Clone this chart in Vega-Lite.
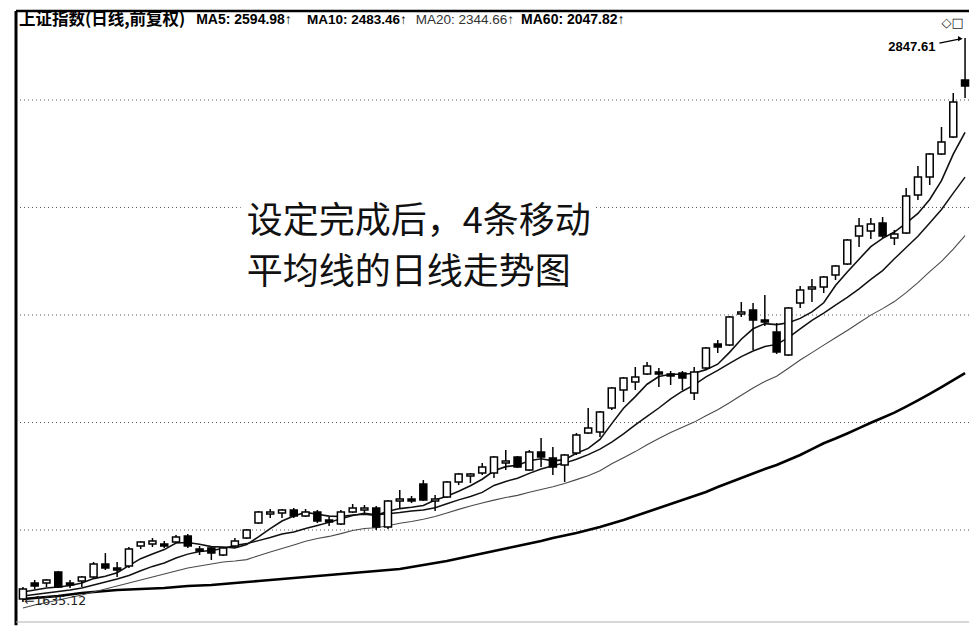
{
  "$schema": "https://vega.github.io/schema/vega-lite/v6.json",
  "width": 963,
  "height": 611,
  "padding": {"left": 11, "top": 11, "right": 0, "bottom": 5},
  "autosize": {"type": "none"},
  "background": "#ffffff",
  "config": {"view": {"stroke": null}},
  "datasets": {
    "k": [
      {"i":0,"o":1640.0,"h":1659.4,"l":1635.12,"c":1656.2,"m5":1651.3,"m10":1644.8,"m20":1625.5,"m60":1640.0},
      {"i":1,"o":1666.0,"h":1670.9,"l":1656.2,"c":1661.1,"m5":1654.6,"m10":1647.3,"m20":1630.3,"m60":1641.6},
      {"i":2,"o":1666.0,"h":1672.6,"l":1659.4,"c":1670.9,"m5":1657.8,"m10":1649.7,"m20":1634.3,"m60":1643.2},
      {"i":3,"o":1684.1,"h":1685.8,"l":1657.8,"c":1659.4,"m5":1659.4,"m10":1652.1,"m20":1638.3,"m60":1644.8},
      {"i":4,"o":1666.0,"h":1670.9,"l":1657.8,"c":1662.7,"m5":1662.0,"m10":1654.6,"m20":1642.4,"m60":1647.3},
      {"i":5,"o":1669.2,"h":1677.5,"l":1659.4,"c":1675.9,"m5":1666.0,"m10":1657.8,"m20":1646.4,"m60":1649.7},
      {"i":6,"o":1675.9,"h":1700.7,"l":1674.2,"c":1697.4,"m5":1673.2,"m10":1662.7,"m20":1651.3,"m60":1651.3},
      {"i":7,"o":1697.4,"h":1715.8,"l":1687.4,"c":1690.7,"m5":1677.2,"m10":1667.6,"m20":1656.2,"m60":1652.9},
      {"i":8,"o":1690.7,"h":1700.7,"l":1675.9,"c":1687.4,"m5":1682.8,"m10":1672.6,"m20":1661.1,"m60":1654.6},
      {"i":9,"o":1694.1,"h":1726.0,"l":1690.7,"c":1722.6,"m5":1694.8,"m10":1678.3,"m20":1666.0,"m60":1655.4},
      {"i":10,"o":1727.7,"h":1736.2,"l":1722.6,"c":1734.5,"m5":1706.4,"m10":1686.1,"m20":1670.9,"m60":1656.2},
      {"i":11,"o":1731.1,"h":1741.3,"l":1726.0,"c":1736.2,"m5":1714.1,"m10":1693.4,"m20":1675.9,"m60":1657.0},
      {"i":12,"o":1731.1,"h":1736.2,"l":1724.3,"c":1727.7,"m5":1721.6,"m10":1699.0,"m20":1680.8,"m60":1657.8},
      {"i":13,"o":1734.5,"h":1746.5,"l":1732.8,"c":1743.1,"m5":1732.8,"m10":1707.4,"m20":1685.8,"m60":1659.4},
      {"i":14,"o":1744.8,"h":1748.2,"l":1724.3,"c":1727.7,"m5":1733.8,"m10":1714.0,"m20":1690.7,"m60":1661.1},
      {"i":15,"o":1722.6,"h":1727.7,"l":1712.5,"c":1719.2,"m5":1730.8,"m10":1718.4,"m20":1694.1,"m60":1661.9},
      {"i":16,"o":1724.3,"h":1726.0,"l":1704.1,"c":1715.8,"m5":1726.7,"m10":1720.2,"m20":1697.4,"m60":1662.7},
      {"i":17,"o":1712.5,"h":1726.0,"l":1710.8,"c":1724.3,"m5":1726.0,"m10":1723.6,"m20":1700.7,"m60":1664.3},
      {"i":18,"o":1727.7,"h":1741.3,"l":1726.0,"c":1736.2,"m5":1724.6,"m10":1728.6,"m20":1702.4,"m60":1666.0},
      {"i":19,"o":1741.3,"h":1756.8,"l":1739.6,"c":1755.1,"m5":1730.1,"m10":1731.8,"m20":1704.8,"m60":1667.6},
      {"i":20,"o":1767.3,"h":1788.3,"l":1765.5,"c":1786.5,"m5":1743.4,"m10":1736.9,"m20":1711.3,"m60":1669.2},
      {"i":21,"o":1783.0,"h":1791.8,"l":1776.0,"c":1786.5,"m5":1757.5,"m10":1742.1,"m20":1717.5,"m60":1670.9},
      {"i":22,"o":1784.8,"h":1791.8,"l":1776.0,"c":1790.0,"m5":1770.8,"m10":1748.2,"m20":1723.5,"m60":1672.6},
      {"i":23,"o":1790.0,"h":1793.5,"l":1776.0,"c":1779.5,"m5":1779.5,"m10":1751.8,"m20":1729.4,"m60":1674.2},
      {"i":24,"o":1779.5,"h":1791.8,"l":1777.8,"c":1786.5,"m5":1785.8,"m10":1757.7,"m20":1735.7,"m60":1675.9},
      {"i":25,"o":1786.5,"h":1790.0,"l":1767.3,"c":1770.8,"m5":1782.6,"m10":1762.9,"m20":1740.5,"m60":1677.5},
      {"i":26,"o":1772.5,"h":1777.8,"l":1762.0,"c":1769.0,"m5":1779.2,"m10":1768.3,"m20":1744.1,"m60":1679.2},
      {"i":27,"o":1765.5,"h":1790.0,"l":1763.8,"c":1786.5,"m5":1778.5,"m10":1774.6,"m20":1748.9,"m60":1680.8},
      {"i":28,"o":1786.5,"h":1800.6,"l":1784.8,"c":1793.5,"m5":1781.3,"m10":1780.4,"m20":1754.2,"m60":1682.5},
      {"i":29,"o":1790.0,"h":1798.8,"l":1784.8,"c":1793.5,"m5":1782.6,"m10":1784.2,"m20":1757.7,"m60":1684.1},
      {"i":30,"o":1793.5,"h":1797.1,"l":1755.1,"c":1760.3,"m5":1780.6,"m10":1781.6,"m20":1759.1,"m60":1685.8},
      {"i":31,"o":1760.3,"h":1807.7,"l":1756.8,"c":1805.9,"m5":1787.9,"m10":1783.5,"m20":1762.6,"m60":1687.4},
      {"i":32,"o":1805.9,"h":1825.5,"l":1793.5,"c":1809.4,"m5":1792.5,"m10":1785.4,"m20":1766.7,"m60":1689.1},
      {"i":33,"o":1809.4,"h":1814.8,"l":1802.3,"c":1805.9,"m5":1794.9,"m10":1788.1,"m20":1769.9,"m60":1692.4},
      {"i":34,"o":1836.3,"h":1843.5,"l":1805.9,"c":1807.7,"m5":1797.8,"m10":1790.2,"m20":1773.9,"m60":1695.7},
      {"i":35,"o":1805.9,"h":1816.6,"l":1788.3,"c":1809.4,"m5":1807.7,"m10":1794.1,"m20":1778.5,"m60":1699.0},
      {"i":36,"o":1813.0,"h":1841.7,"l":1811.2,"c":1839.9,"m5":1814.4,"m10":1801.1,"m20":1784.6,"m60":1702.4},
      {"i":37,"o":1839.9,"h":1856.3,"l":1834.5,"c":1854.5,"m5":1823.3,"m10":1807.9,"m20":1791.1,"m60":1706.6},
      {"i":38,"o":1850.8,"h":1856.3,"l":1838.1,"c":1854.5,"m5":1833.1,"m10":1813.9,"m20":1797.1,"m60":1710.8},
      {"i":39,"o":1856.3,"h":1874.7,"l":1852.6,"c":1867.3,"m5":1845.0,"m10":1821.2,"m20":1802.5,"m60":1715.0},
      {"i":40,"o":1856.3,"h":1887.6,"l":1847.2,"c":1885.8,"m5":1860.3,"m10":1833.8,"m20":1807.5,"m60":1719.2},
      {"i":41,"o":1874.7,"h":1898.8,"l":1861.8,"c":1878.4,"m5":1868.0,"m10":1841.0,"m20":1812.0,"m60":1723.5},
      {"i":42,"o":1885.8,"h":1887.6,"l":1865.5,"c":1867.3,"m5":1870.6,"m10":1846.9,"m20":1815.9,"m60":1727.7},
      {"i":43,"o":1861.8,"h":1898.8,"l":1860.0,"c":1895.0,"m5":1878.7,"m10":1855.7,"m20":1821.6,"m60":1732.0},
      {"i":44,"o":1895.0,"h":1921.4,"l":1867.3,"c":1885.8,"m5":1882.4,"m10":1863.6,"m20":1826.4,"m60":1736.2},
      {"i":45,"o":1883.9,"h":1904.4,"l":1852.6,"c":1867.3,"m5":1878.7,"m10":1869.5,"m20":1831.3,"m60":1741.3},
      {"i":46,"o":1871.0,"h":1891.3,"l":1839.9,"c":1889.5,"m5":1880.9,"m10":1874.5,"m20":1837.4,"m60":1745.6},
      {"i":47,"o":1893.2,"h":1930.8,"l":1889.5,"c":1927.0,"m5":1892.8,"m10":1881.7,"m20":1844.3,"m60":1749.9},
      {"i":48,"o":1930.8,"h":1978.9,"l":1928.9,"c":1940.3,"m5":1901.8,"m10":1890.2,"m20":1851.5,"m60":1755.1},
      {"i":49,"o":1932.7,"h":1973.0,"l":1923.3,"c":1971.1,"m5":1918.7,"m10":1900.4,"m20":1860.3,"m60":1760.3},
      {"i":50,"o":1978.9,"h":2020.2,"l":1975.0,"c":2018.2,"m5":1948.7,"m10":1913.4,"m20":1873.2,"m60":1766.4},
      {"i":51,"o":2014.2,"h":2040.1,"l":1990.5,"c":2038.1,"m5":1978.5,"m10":1929.1,"m20":1884.5,"m60":1772.5},
      {"i":52,"o":2030.1,"h":2060.3,"l":2014.2,"c":2040.1,"m5":2001.1,"m10":1946.3,"m20":1895.8,"m60":1779.5},
      {"i":53,"o":2046.2,"h":2070.4,"l":2044.2,"c":2062.3,"m5":2025.7,"m10":1962.8,"m20":1908.5,"m60":1786.5},
      {"i":54,"o":2050.2,"h":2058.3,"l":2020.2,"c":2046.2,"m5":2041.0,"m10":1978.9,"m20":1920.4,"m60":1793.5},
      {"i":55,"o":2046.2,"h":2052.2,"l":2024.1,"c":2042.2,"m5":2045.8,"m10":1996.6,"m20":1931.9,"m60":1800.6},
      {"i":56,"o":2048.2,"h":2052.2,"l":2014.2,"c":2038.1,"m5":2045.8,"m10":2011.8,"m20":1941.9,"m60":1807.7},
      {"i":57,"o":2008.2,"h":2060.3,"l":1994.4,"c":2050.2,"m5":2047.8,"m10":2024.3,"m20":1951.6,"m60":1814.8},
      {"i":58,"o":2058.3,"h":2101.2,"l":2056.3,"c":2099.1,"m5":2055.0,"m10":2040.4,"m20":1963.7,"m60":1821.9},
      {"i":59,"o":2107.4,"h":2115.7,"l":2088.9,"c":2101.2,"m5":2066.0,"m10":2053.4,"m20":1975.4,"m60":1831.0},
      {"i":60,"o":2105.3,"h":2166.3,"l":2103.3,"c":2164.2,"m5":2090.1,"m10":2067.7,"m20":1989.0,"m60":1839.0},
      {"i":61,"o":2170.5,"h":2196.3,"l":2164.2,"c":2174.8,"m5":2117.3,"m10":2081.3,"m20":2003.7,"m60":1847.2},
      {"i":62,"o":2179.1,"h":2194.1,"l":2095.0,"c":2157.7,"m5":2139.2,"m10":2092.9,"m20":2018.2,"m60":1855.4},
      {"i":63,"o":2157.7,"h":2211.5,"l":2145.1,"c":2153.5,"m5":2150.1,"m10":2102.1,"m20":2031.1,"m60":1863.6},
      {"i":64,"o":2132.4,"h":2151.4,"l":2086.8,"c":2090.9,"m5":2148.0,"m10":2106.6,"m20":2041.8,"m60":1871.0},
      {"i":65,"o":2084.8,"h":2185.5,"l":2082.7,"c":2183.4,"m5":2151.8,"m10":2120.7,"m20":2057.7,"m60":1880.2},
      {"i":66,"o":2194.1,"h":2231.1,"l":2183.4,"c":2222.4,"m5":2161.2,"m10":2139.2,"m20":2074.5,"m60":1889.5},
      {"i":67,"o":2224.6,"h":2246.6,"l":2196.3,"c":2228.9,"m5":2175.2,"m10":2157.1,"m20":2089.7,"m60":1900.6},
      {"i":68,"o":2228.9,"h":2253.2,"l":2215.8,"c":2251.0,"m5":2194.6,"m10":2172.2,"m20":2105.1,"m60":1911.5},
      {"i":69,"o":2255.4,"h":2277.7,"l":2244.3,"c":2275.5,"m5":2232.1,"m10":2189.6,"m20":2120.3,"m60":1920.4},
      {"i":70,"o":2280.0,"h":2336.7,"l":2277.7,"c":2334.4,"m5":2262.1,"m10":2206.3,"m20":2135.8,"m60":1930.0},
      {"i":71,"o":2343.6,"h":2385.5,"l":2318.4,"c":2366.8,"m5":2290.7,"m10":2225.0,"m20":2151.8,"m60":1940.0},
      {"i":72,"o":2355.1,"h":2385.5,"l":2336.7,"c":2371.4,"m5":2319.3,"m10":2245.7,"m20":2168.2,"m60":1950.3},
      {"i":73,"o":2373.8,"h":2387.8,"l":2339.0,"c":2343.6,"m5":2338.1,"m10":2265.2,"m20":2182.1,"m60":1959.9},
      {"i":74,"o":2339.0,"h":2357.5,"l":2323.0,"c":2348.2,"m5":2352.8,"m10":2291.6,"m20":2197.2,"m60":1969.9},
      {"i":75,"o":2350.5,"h":2457.0,"l":2348.2,"c":2437.6,"m5":2373.3,"m10":2317.1,"m20":2216.7,"m60":1981.4},
      {"i":76,"o":2440.0,"h":2510.6,"l":2428.1,"c":2483.6,"m5":2396.3,"m10":2342.9,"m20":2238.6,"m60":1993.6},
      {"i":77,"o":2483.6,"h":2542.9,"l":2464.1,"c":2540.4,"m5":2429.5,"m10":2373.8,"m20":2262.8,"m60":2006.4},
      {"i":78,"o":2540.4,"h":2608.8,"l":2537.9,"c":2570.6,"m5":2474.8,"m10":2405.5,"m20":2285.8,"m60":2019.8},
      {"i":79,"o":2583.3,"h":2697.5,"l":2580.8,"c":2673.7,"m5":2539.9,"m10":2444.6,"m20":2313.6,"m60":2033.9},
      {"i":80,"o":2732.2,"h":2847.61,"l":2684.3,"c":2716.2,"m5":2594.98,"m10":2483.46,"m20":2344.66,"m60":2047.82}
    ],
    "levels": [{"g": 2679.0}, {"g": 2410.3}, {"g": 2168.4}, {"g": 1950.8}, {"g": 1755.1}]
  },
  "layer": [
    {
      "data": {"name": "levels"},
      "mark": {"type": "rule", "color": "#555555", "strokeWidth": 1, "strokeDash": [1, 3]},
      "encoding": {
        "x": {"datum": -0.588, "type": "quantitative", "scale": {"domain": [-0.588, 80.336], "nice": false, "zero": false}, "axis": {"labels": false, "ticks": false, "domain": false, "grid": false, "title": null}},
        "x2": {"datum": 80.336},
        "y": {"field": "g", "type": "quantitative", "scale": {"type": "log", "domain": [1603.3, 2924.1], "nice": false, "zero": false}, "axis": {"labels": false, "ticks": false, "domain": false, "grid": false, "title": null}}
      }
    },
    {
      "data": {"values": [{}]},
      "mark": {"type": "rect", "fill": "#ffffff"},
      "encoding": {
        "x": {"datum": 18.49, "type": "quantitative", "axis": null},
        "x2": {"datum": 48.49},
        "y": {"datum": 2432.9, "type": "quantitative", "axis": null},
        "y2": {"datum": 2207.2}
      }
    },
    {
      "data": {"name": "k"},
      "mark": {"type": "line", "color": "#000000", "strokeWidth": 2.6},
      "encoding": {
        "x": {"field": "i", "type": "quantitative", "scale": {"domain": [-0.588, 80.336], "nice": false, "zero": false}, "axis": null},
        "y": {"field": "m60", "type": "quantitative", "scale": {"type": "log", "domain": [1603.3, 2924.1], "nice": false, "zero": false}, "axis": null}
      }
    },
    {
      "data": {"name": "k"},
      "mark": {"type": "line", "color": "#4a4a4a", "strokeWidth": 1.1},
      "encoding": {
        "x": {"field": "i", "type": "quantitative", "scale": {"domain": [-0.588, 80.336], "nice": false, "zero": false}, "axis": null},
        "y": {"field": "m20", "type": "quantitative", "scale": {"type": "log", "domain": [1603.3, 2924.1], "nice": false, "zero": false}, "axis": null}
      }
    },
    {
      "data": {"name": "k"},
      "mark": {"type": "line", "color": "#111111", "strokeWidth": 1.5},
      "encoding": {
        "x": {"field": "i", "type": "quantitative", "scale": {"domain": [-0.588, 80.336], "nice": false, "zero": false}, "axis": null},
        "y": {"field": "m10", "type": "quantitative", "scale": {"type": "log", "domain": [1603.3, 2924.1], "nice": false, "zero": false}, "axis": null}
      }
    },
    {
      "data": {"name": "k"},
      "mark": {"type": "line", "color": "#111111", "strokeWidth": 1.6},
      "encoding": {
        "x": {"field": "i", "type": "quantitative", "scale": {"domain": [-0.588, 80.336], "nice": false, "zero": false}, "axis": null},
        "y": {"field": "m5", "type": "quantitative", "scale": {"type": "log", "domain": [1603.3, 2924.1], "nice": false, "zero": false}, "axis": null}
      }
    },
    {
      "data": {"name": "k"},
      "mark": {"type": "rule", "color": "#000000", "strokeWidth": 1.5},
      "encoding": {
        "x": {"field": "i", "type": "quantitative", "scale": {"domain": [-0.588, 80.336], "nice": false, "zero": false}, "axis": null},
        "y": {"field": "l", "type": "quantitative", "scale": {"type": "log", "domain": [1603.3, 2924.1], "nice": false, "zero": false}, "axis": null},
        "y2": {"field": "h"}
      }
    },
    {
      "data": {"name": "k"},
      "mark": {"type": "bar", "size": 7, "stroke": "#000000", "strokeWidth": 1.5},
      "encoding": {
        "x": {"field": "i", "type": "quantitative", "scale": {"domain": [-0.588, 80.336], "nice": false, "zero": false}, "axis": null},
        "y": {"field": "o", "type": "quantitative", "scale": {"type": "log", "domain": [1603.3, 2924.1], "nice": false, "zero": false}, "axis": null},
        "y2": {"field": "c"},
        "fill": {"condition": {"test": "datum.c < datum.o", "value": "#000000"}, "value": "#ffffff"}
      }
    },
    {
      "data": {"values": [{}]},
      "mark": {"type": "text", "text": "设定完成后，4条移动", "font": "Noto Sans CJK SC", "fontSize": 36, "color": "#111111", "align": "left", "baseline": "middle"},
      "encoding": {
        "x": {"datum": 19.0, "type": "quantitative", "axis": null},
        "y": {"datum": 2376.1, "type": "quantitative", "axis": null}
      }
    },
    {
      "data": {"values": [{}]},
      "mark": {"type": "text", "text": "平均线的日线走势图", "font": "Noto Sans CJK SC", "fontSize": 36, "color": "#111111", "align": "left", "baseline": "middle"},
      "encoding": {
        "x": {"datum": 19.0, "type": "quantitative", "axis": null},
        "y": {"datum": 2258.8, "type": "quantitative", "axis": null}
      }
    },
    {
      "data": {"values": [{}]},
      "mark": {"type": "text", "text": "上证指数(日线,前复权)", "font": "Noto Sans CJK SC", "fontWeight": "bold", "fontSize": 16.5, "color": "#000000", "align": "left", "baseline": "middle"},
      "encoding": {
        "x": {"datum": -0.336, "type": "quantitative", "axis": null},
        "y": {"datum": 2898.0, "type": "quantitative", "axis": null}
      }
    },
    {
      "data": {"values": [{}]},
      "mark": {"type": "text", "text": "MA5: 2594.98↑", "font": "Liberation Sans", "fontWeight": "bold", "fontSize": 14, "color": "#000000", "align": "left", "baseline": "middle"},
      "encoding": {
        "x": {"datum": 14.71, "type": "quantitative", "axis": null},
        "y": {"datum": 2898.0, "type": "quantitative", "axis": null}
      }
    },
    {
      "data": {"values": [{}]},
      "mark": {"type": "text", "text": "MA10: 2483.46↑", "font": "Liberation Sans", "fontWeight": "bold", "fontSize": 13.5, "color": "#000000", "align": "left", "baseline": "middle"},
      "encoding": {
        "x": {"datum": 24.12, "type": "quantitative", "axis": null},
        "y": {"datum": 2898.0, "type": "quantitative", "axis": null}
      }
    },
    {
      "data": {"values": [{}]},
      "mark": {"type": "text", "text": "MA20: 2344.66↑", "font": "Liberation Sans", "fontSize": 13.5, "color": "#333333", "align": "left", "baseline": "middle"},
      "encoding": {
        "x": {"datum": 33.35, "type": "quantitative", "axis": null},
        "y": {"datum": 2898.0, "type": "quantitative", "axis": null}
      }
    },
    {
      "data": {"values": [{}]},
      "mark": {"type": "text", "text": "MA60: 2047.82↑", "font": "Liberation Sans", "fontWeight": "bold", "fontSize": 14, "color": "#000000", "align": "left", "baseline": "middle"},
      "encoding": {
        "x": {"datum": 42.3, "type": "quantitative", "axis": null},
        "y": {"datum": 2898.0, "type": "quantitative", "axis": null}
      }
    },
    {
      "data": {"values": [{}]},
      "mark": {"type": "text", "text": "◇□", "font": "DejaVu Sans", "fontSize": 13, "color": "#222222", "align": "left", "baseline": "middle"},
      "encoding": {
        "x": {"datum": 78.0, "type": "quantitative", "axis": null},
        "y": {"datum": 2889.8, "type": "quantitative", "axis": null}
      }
    },
    {
      "data": {"values": [{}]},
      "mark": {"type": "text", "text": "2847.61", "font": "Liberation Sans", "fontWeight": "bold", "fontSize": 13, "color": "#000000", "align": "right", "baseline": "middle"},
      "encoding": {
        "x": {"datum": 77.48, "type": "quantitative", "axis": null},
        "y": {"datum": 2823.7, "type": "quantitative", "axis": null}
      }
    },
    {
      "data": {"values": [{}]},
      "mark": {"type": "rule", "color": "#000000", "strokeWidth": 1.3},
      "encoding": {
        "x": {"datum": 77.82, "type": "quantitative", "axis": null},
        "x2": {"datum": 79.6},
        "y": {"datum": 2833.4, "type": "quantitative", "axis": null},
        "y2": {"datum": 2845.0}
      }
    },
    {
      "data": {"values": [{}]},
      "mark": {"type": "point", "shape": "triangle-right", "size": 28, "filled": true, "color": "#000000", "opacity": 1},
      "encoding": {
        "x": {"datum": 79.6, "type": "quantitative", "axis": null},
        "y": {"datum": 2845.5, "type": "quantitative", "axis": null}
      }
    },
    {
      "data": {"values": [{}]},
      "mark": {"type": "text", "text": "←1635.12", "font": "DejaVu Sans", "fontSize": 12.5, "color": "#222222", "align": "left", "baseline": "middle"},
      "encoding": {
        "x": {"datum": 0.084, "type": "quantitative", "axis": null},
        "y": {"datum": 1636.7, "type": "quantitative", "axis": null}
      }
    },
    {
      "data": {"values": [{}]},
      "mark": {"type": "rule", "color": "#000000", "strokeWidth": 3},
      "encoding": {
        "x": {"datum": -0.588, "type": "quantitative", "axis": null},
        "y": {"datum": 2924.1, "type": "quantitative", "axis": null},
        "y2": {"datum": 1598.0}
      }
    },
    {
      "data": {"values": [{}]},
      "mark": {"type": "rule", "color": "#000000", "strokeWidth": 2.5},
      "encoding": {
        "x": {"datum": -0.588, "type": "quantitative", "axis": null},
        "x2": {"datum": 80.336},
        "y": {"datum": 2924.1, "type": "quantitative", "axis": null}
      }
    },
    {
      "data": {"values": [{}]},
      "mark": {"type": "rule", "color": "#b0b0b0", "strokeWidth": 1},
      "encoding": {
        "x": {"datum": -0.588, "type": "quantitative", "axis": null},
        "x2": {"datum": 80.336},
        "y": {"datum": 1603.3, "type": "quantitative", "axis": null}
      }
    }
  ]
}
